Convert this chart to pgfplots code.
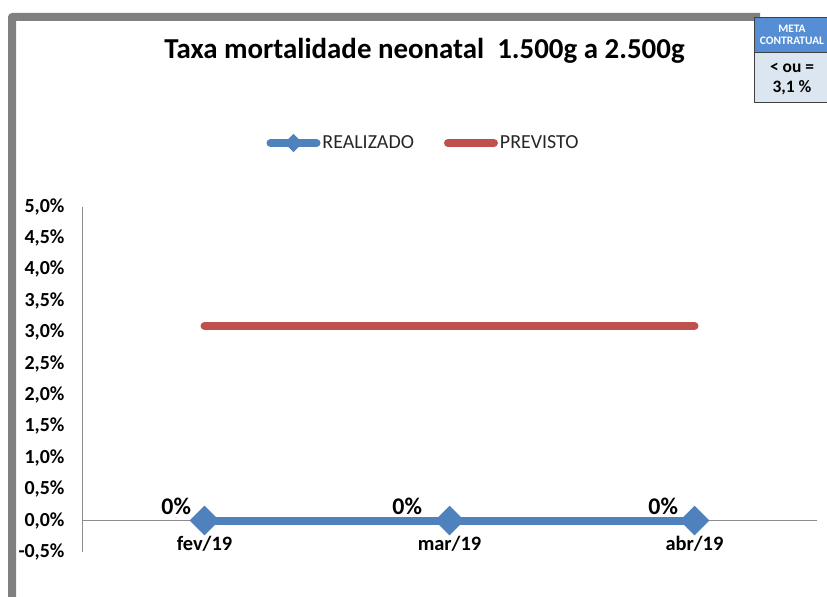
\documentclass[border=0pt]{standalone}
\usepackage{pgfplots}
\pgfplotsset{compat=1.18}
\usepackage{fontspec}
\setmainfont{Carlito}
\definecolor{serieblue}{HTML}{4F81BD}
\definecolor{seriered}{HTML}{C0504D}
\definecolor{framegray}{HTML}{808080}
\definecolor{metablue}{HTML}{558ED5}
\definecolor{metalight}{HTML}{DCE6F1}
\begin{document}
\begin{tikzpicture}[x=1bp,y=1bp]
\useasboundingbox (0,0) rectangle (827,597);
% moldura
\fill[framegray] (8,0) -- (8,580) arc[start angle=180,end angle=90,radius=4] -- (760,584) -- (760,576) -- (16,576) -- (16,0) -- cycle;
% titulo
\node[font=\fontsize{29}{33}\selectfont\bfseries] at (424.5,546) {Taxa mortalidade neonatal\ \ 1.500g a 2.500g};
% caixa meta
\fill[metablue] (754,545) rectangle (827,580);
\fill[metalight] (754,495) rectangle (827,545);
\draw[black!75, line width=0.8bp] (827,580) -- (754,580) -- (754,495) -- (827,495) (754,545) -- (827,545);
\node[text=white, font=\fontsize{11.5}{13}\selectfont\bfseries, align=center] at (792,562) {META\\[-1bp]CONTRATUAL};
\node[font=\fontsize{17.5}{20}\selectfont\bfseries, align=center] at (792,518) {< ou =\\3,1 \%};

\begin{axis}[
  name=ax, at={(82bp,45bp)}, anchor=south west,
  scale only axis, width=735bp, height=345.4bp,
  xmin=-0.5, xmax=2.5, ymin=-0.5, ymax=5,
  axis y line=left, axis x line=middle,
  axis line style={-, draw=black!45, line width=0.8bp},
  hide obscured x ticks=false, hide obscured y ticks=false,
  xtick={0,1,2}, xticklabels={fev/19,mar/19,abr/19},
  ytick={-0.5,0,0.5,1,1.5,2,2.5,3,3.5,4,4.5,5},
  major tick length=0pt,
  /pgf/number format/assume math mode=true,
  yticklabel={\pgfmathprintnumber[fixed,fixed zerofill,precision=1,use comma]{\tick}\%},
  yticklabel style={font=\fontsize{20}{24}\selectfont\bfseries, xshift=-14bp},
  xticklabel style={font=\fontsize{20.5}{24}\selectfont\bfseries, yshift=-12bp},
  clip=false,
  legend columns=2,
  legend style={at={(0.4646,1.184)}, anchor=center, draw=none, fill=none,
    font=\fontsize{20}{24}\selectfont, text=black!85,
    /tikz/every even column/.append style={column sep=28bp}},
  legend image code/.code={\draw[#1, mark size=6bp, mark repeat=2, mark phase=2]
    plot coordinates {(0bp,0bp) (23bp,0bp) (46bp,0bp)};},
]
% REALIZADO (dx = deslocamento do rotulo)
\addplot[serieblue, line width=8bp, line cap=round,
  mark=square*, mark size=10bp,
  mark options={rotate=45, line width=1bp, rounded corners=2bp},
  visualization depends on={value \thisrow{dx} \as \dx},
  nodes near coords={\pgfmathprintnumber{\pgfplotspointmeta}\%},
  nodes near coords style={anchor=south east, inner sep=0pt, text=black,
    font=\fontsize{24}{28}\selectfont\bfseries, xshift=\dx bp, yshift=5bp}]
  table[x=x, y=y] {
x y dx
0 0 -13
1 0 -27
2 0 -16
};
\addlegendentry{REALIZADO}
\addplot[seriered, line width=8bp, line cap=round]
  coordinates {(0,3.1) (1,3.1) (2,3.1)};
\addlegendentry{PREVISTO}
\end{axis}
\end{tikzpicture}
\end{document}
